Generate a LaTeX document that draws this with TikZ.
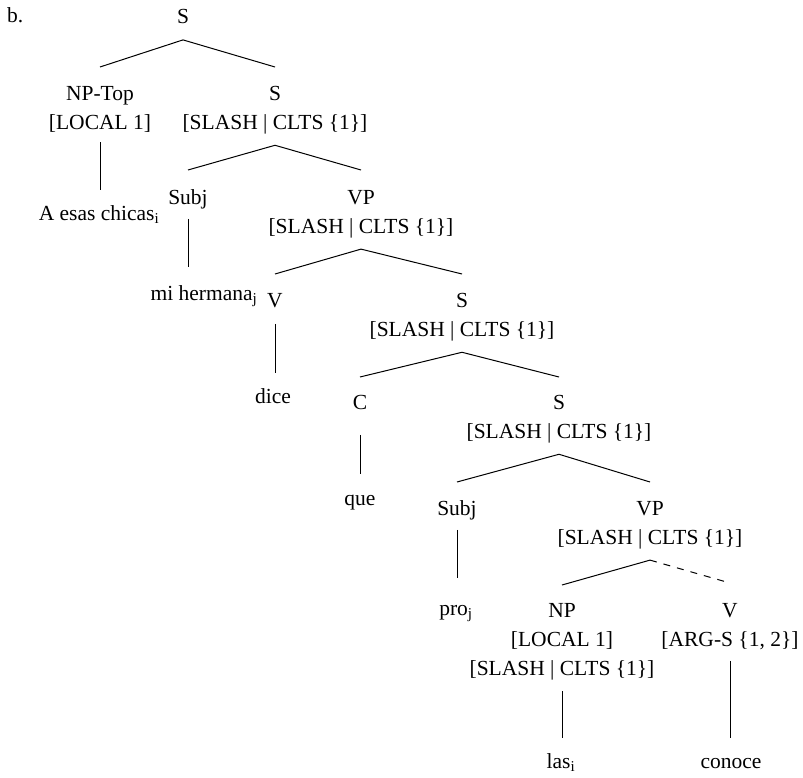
\documentclass[tikz,border=0pt]{standalone}
\usepackage{fontspec}
\setmainfont{Liberation Serif}
\begin{document}
\begin{tikzpicture}[x=1pt,y=-1pt,
    lbl/.style={anchor=north,inner sep=0pt,font=\fontsize{21.5}{29}\selectfont},
    cat/.style={lbl,align=center},
    word/.style={lbl,text height=14pt,text depth=4.5pt},
    branch/.style={line width=1pt}]
\useasboundingbox (0,0) rectangle (803,778);
% labels
\node[lbl,anchor=base west] (ex) at (7,23) {b.};
\node[word] (s0) at (183,9) {S};
\node[cat] (nptop) at (100,86) {NP-Top\\{[LOCAL 1]}};
\node[cat] (s1) at (275,86) {S\\{[SLASH | CLTS \{1\}]}};
\node[word] (chicas) at (99,206) {A esas chicas\textsubscript{i}};
\node[word] (subj1) at (188,190) {Subj};
\node[cat] (vp1) at (361,190) {VP\\{[SLASH | CLTS \{1\}]}};
\node[word] (hermana) at (204,286) {mi hermana\textsubscript{j}};
\node[word] (v1) at (275,293) {V};
\node[cat] (s2) at (462,293) {S\\{[SLASH | CLTS \{1\}]}};
\node[word] (dice) at (273,389) {dice};
\node[word] (c) at (360,395) {C};
\node[cat] (s3) at (559,395) {S\\{[SLASH | CLTS \{1\}]}};
\node[word] (que) at (360,491) {que};
\node[word] (subj2) at (457,501) {Subj};
\node[cat] (vp2) at (650,501) {VP\\{[SLASH | CLTS \{1\}]}};
\node[word] (pro) at (456,601) {pro\textsubscript{j}};
\node[cat] (np) at (562,603) {NP\\{[LOCAL 1]}\\{[SLASH | CLTS \{1\}]}};
\node[cat] (v2) at (730,603) {V\\{[ARG-S \{1, 2\}]}};
\node[word] (las) at (561,754) {las\textsubscript{i}};
\node[word] (conoce) at (731,754) {conoce};
% branches
\draw[branch] ([yshift=-12pt]s0.south) -- ([yshift=19pt]nptop.north);
\draw[branch] ([yshift=-12pt]s0.south) -- ([yshift=19pt]s1.north);
\draw[branch] ([yshift=-11pt]s1.south) -- ([yshift=20pt]subj1.north);
\draw[branch] ([yshift=-11pt]s1.south) -- ([yshift=20pt]vp1.north);
\draw[branch] ([yshift=-11pt]vp1.south) -- ([yshift=19pt]v1.north);
\draw[branch] ([yshift=-11pt]vp1.south) -- ([yshift=19pt]s2.north);
\draw[branch] ([yshift=-11pt]s2.south) -- ([yshift=18pt]c.north);
\draw[branch] ([yshift=-11pt]s2.south) -- ([yshift=18pt]s3.north);
\draw[branch] ([yshift=-11pt]s3.south) -- ([yshift=19pt]subj2.north);
\draw[branch] ([yshift=-11pt]s3.south) -- ([yshift=19pt]vp2.north);
\draw[branch] ([yshift=-11pt]vp2.south) -- ([yshift=18pt]np.north);
\draw[branch,dash pattern=on 7pt off 7pt] ([yshift=-11pt]vp2.south) -- ([yshift=20pt]v2.north);
% unary branches
\draw[branch] ([yshift=-10pt]nptop.south) -- ([yshift=16pt]nptop.south |- chicas.north);
\draw[branch] ([yshift=-10pt]subj1.south) -- ([yshift=19pt]subj1.south |- hermana.north);
\draw[branch] ([yshift=-12pt]v1.south) -- ([yshift=16pt]v1.south |- dice.north);
\draw[branch] ([yshift=-21pt]c.south) -- ([yshift=17pt]c.south |- que.north);
\draw[branch] ([yshift=-10pt]subj2.south) -- ([yshift=23pt]subj2.south |- pro.north);
\draw[branch] ([yshift=-11pt]np.south) -- ([yshift=16pt]np.south |- las.north);
\draw[branch] ([yshift=-11pt]v2.south) -- ([yshift=16pt]v2.south |- conoce.north);
\end{tikzpicture}
\end{document}
